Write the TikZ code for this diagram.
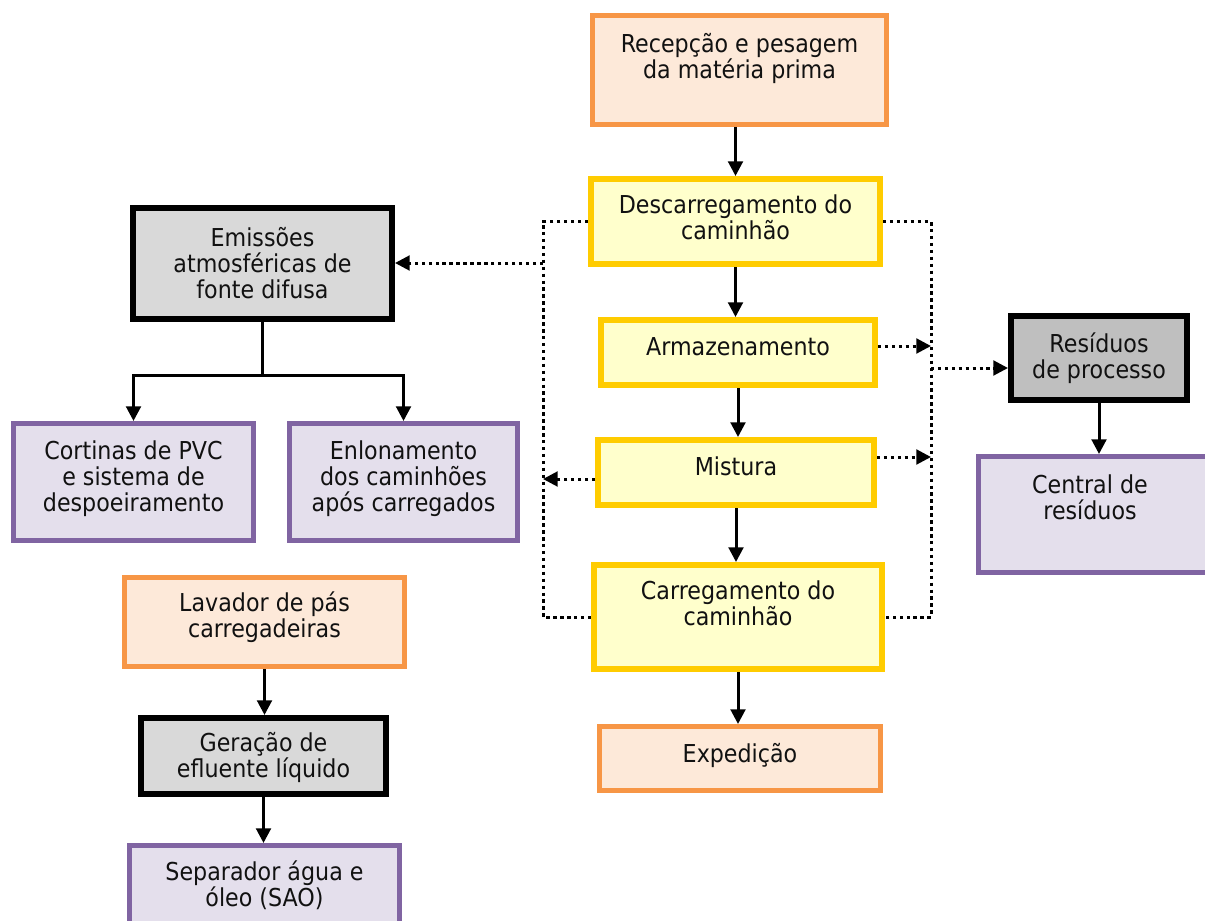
\documentclass[tikz,border=0pt]{standalone}
\usepackage{fontspec}
\setmainfont{DejaVu Sans}[FakeStretch=0.9]
\usetikzlibrary{arrows.meta,fit,calc}
\definecolor{orB}{HTML}{F79646}
\definecolor{orF}{HTML}{FDE9D9}
\definecolor{yeB}{HTML}{FFCC00}
\definecolor{yeF}{HTML}{FFFFCC}
\definecolor{grF}{HTML}{D9D9D9}
\definecolor{grD}{HTML}{BFBFBF}
\definecolor{puB}{HTML}{8064A2}
\definecolor{puF}{HTML}{E4DFEC}
\definecolor{ink}{HTML}{111111}
\begin{document}
\begin{tikzpicture}[x=0.75pt,y=-0.75pt,
  orbox/.style={rectangle, draw=orB, fill=orF, line width=3.75pt, inner sep=-1.875pt},
  yebox/.style={rectangle, draw=yeB, fill=yeF, line width=4.5pt, inner sep=-2.25pt},
  gybox/.style={rectangle, draw=black, fill=grF, line width=4.8pt, inner sep=-2.4pt},
  gdbox/.style={rectangle, draw=black, fill=grD, line width=4.8pt, inner sep=-2.4pt},
  pubox/.style={rectangle, draw=puB, fill=puF, line width=3.75pt, inner sep=-1.875pt},
  txt/.style={align=center, inner sep=0pt, text=ink, font=\fontsize{18.5pt}{19.5pt}\selectfont},
  arr/.style={line width=2.25pt, draw=black, -{Triangle[length=11pt,width=11pt]}},
  lin/.style={line width=2.25pt, draw=black},
  dots/.style={line width=2.25pt, draw=black, dash pattern=on 2.6pt off 2.6pt},
  dtip/.style={dots, -{Triangle[length=11pt,width=11pt]}}
]
\useasboundingbox (0,0) rectangle (1205,920);

% boxes
\node[orbox, fit={(590,13)(889,127)}] (rec) {};
\node[yebox, fit={(588,176)(883,267)}] (desc) {};
\node[yebox, fit={(598,317)(878,388)}] (arm) {};
\node[yebox, fit={(595,437)(877,508)}] (mis) {};
\node[yebox, fit={(591,562)(885,672)}] (car) {};
\node[orbox, fit={(597,724)(883,793)}] (exp) {};
\node[gybox, fit={(130,205)(395,322)}] (emi) {};
\node[pubox, fit={(11,421)(256,543)}] (cor) {};
\node[pubox, fit={(287,421)(520,543)}] (enl) {};
\node[orbox, fit={(122,575)(407,669)}] (lav) {};
\node[gybox, fit={(138,715)(389,797)}] (ger) {};
\node[pubox, fit={(127,843)(402,940)}] (sep) {};
\node[gdbox, fit={(1008,313)(1190,403)}] (res) {};
\node[pubox, fit={(976,454)(1220,575)}] (cen) {};

% texts
\node[txt] (rec-t) at (739.5,58) {Recepção e pesagem\\da matéria prima};
\node[txt] (desc-t) at (735.5,217) {Descarregamento do\\caminhão};
\node[txt] (arm-t) at (738,347) {Armazenamento};
\node[txt] (mis-t) at (736,466) {Mistura};
\node[txt] (car-t) at (738,603) {Carregamento do\\caminhão};
\node[txt] (exp-t) at (740,755) {Expedição};
\node[txt] (emi-t) at (262.5,263) {Emissões\\atmosféricas de\\fonte difusa};
\node[txt] (cor-t) at (133.5,479) {Cortinas de PVC\\e sistema de\\despoeiramento};
\node[txt] (enl-t) at (403.5,479) {Enlonamento\\dos caminhões\\após carregados};
\node[txt] (lav-t) at (264.5,617) {Lavador de pás\\carregadeiras};
\node[txt] (ger-t) at (263.5,757) {Geração de\\efluente líquido};
\node[txt] (sep-t) at (264.5,885) {Separador água e\\óleo (SAO)};
\node[txt] (res-t) at (1099,358) {Resíduos\\de processo};
\node[txt] (cen-t) at (1090,497) {Central de\\resíduos};

% main flow
\draw[arr] (desc.north |- rec.south) -- (desc.north);
\draw[arr] (desc.south) -- (desc.south |- arm.north);
\draw[arr] (arm.south) -- (arm.south |- mis.north);
\draw[arr] (mis.south) -- (mis.south |- car.north);
\draw[arr] (car.south) -- (car.south |- exp.north);

% emissions branch
\coordinate (J) at (262.5,375);
\draw[lin] (emi.south) -- (J);
\draw[arr] (J) -| (cor.north);
\draw[arr] (J) -| (enl.north);

% liquid effluent
\draw[arr] (lav.south) -- (lav.south |- ger.north);
\draw[arr] (ger.south) -- (ger.south |- sep.north);

% residues
\draw[arr] (res.south) -- (res.south |- cen.north);

% dotted loops
\coordinate (Lc) at (543,400);
\coordinate (Rc) at (931,400);
\draw[dots] (desc.west) -| (Lc) |- (car.west);
\draw[dots] (desc.east) -| (Rc) |- (car.east);
\coordinate (Le) at (543,263);
\draw[dtip] (Le) -- (Le -| emi.east);
\coordinate (Lm) at (543,479);
\draw[dtip] (Lm -| mis.west) -- (Lm);
\coordinate (Ra) at (931,346);
\draw[dtip] (Ra -| arm.east) -- (Ra);
\coordinate (Rm) at (931,457);
\draw[dtip] (Rm -| mis.east) -- (Rm);
\coordinate (Rr) at (931,368);
\draw[dtip] (Rr) -- (Rr -| res.west);
\end{tikzpicture}
\end{document}
